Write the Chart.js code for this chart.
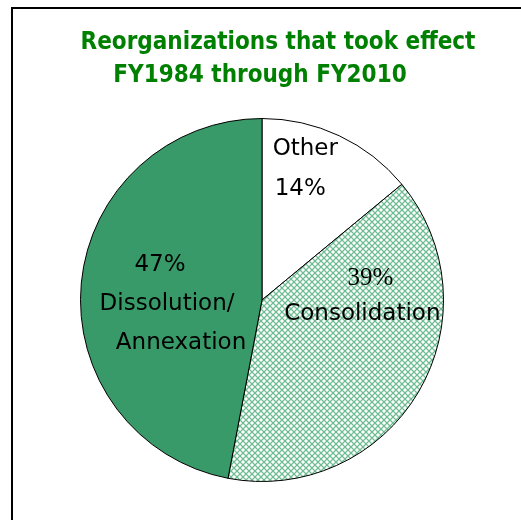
<!DOCTYPE html>
<html>
<head>
<meta charset="utf-8">
<script src="https://cdn.jsdelivr.net/npm/chart.js@4"></script>
<style>
  html, body { margin: 0; padding: 0; background: #fff; overflow: hidden; }
  #wrap { position: relative; width: 521px; height: 520px; }
  #frame { position: absolute; left: 11px; top: 7px; width: 600px; height: 600px;
           border-left: 2px solid #000; border-top: 2px solid #000; }
  canvas { position: absolute; left: 0; top: 0; }
</style>
</head>
<body>
<div id="wrap">
  <div id="frame"></div>
  <canvas id="pieChart" width="521" height="520"></canvas>
</div>
<script>
const titleLines = ["Reorganizations that took effect", "FY1984 through FY2010"];
const categories = ["Other", "Consolidation", "Dissolution/Annexation"];
const shares = [14, 39, 47];
const labelLines = [["Other", "14%"], ["39%", "Consolidation"], ["47%", "Dissolution/", "Annexation"]];

// crosshatch fill for the consolidation slice
function makeHatch() {
    const c = document.createElement('canvas');
    c.width = 6; c.height = 6;
    const g = c.getContext('2d');
    g.fillStyle = '#ffffff';
    g.fillRect(0, 0, 6, 6);
    for (let y = 0; y < 6; y++) {
        for (let x = 0; x < 6; x++) {
            if (x === y || x + y === 5) {
                g.fillStyle = '#6fbb93';
                g.fillRect(x, y, 1, 1);
            } else if (Math.abs(x - y) === 1 || Math.abs(x + y - 5) === 1) {
                g.fillStyle = '#c2e4d1';
                g.fillRect(x, y, 1, 1);
            }
        }
    }
    return g.createPattern(c, 'repeat');
}

const ctx = document.getElementById('pieChart').getContext('2d');

const sansFont = '"DejaVu Sans", sans-serif';
// label block placement: fraction of radius along slice middle, then per-line nudges
const labelPlace = [
    { r: 0.78, dx: [-17, -22], dy: [-3, -3], gap: 40, font: [sansFont, sansFont], size: [23, 23] },
    { r: 0.38, dx: [49, 41], dy: [-39, -39], gap: 35, font: ['"Liberation Serif", serif', sansFont], size: [25, 23] },
    { r: 0.52, dx: [-8, -1, 13], dy: [12, 13, 13], gap: 38.5, font: [sansFont, sansFont, sansFont], size: [23, 23, 23] }
];

const titlePlugin = {
    id: 'twoLineTitle',
    afterDraw(chart) {
        const c = chart.ctx;
        c.save();
        c.fillStyle = '#008000';
        c.font = 'bold 24px "DejaVu Sans Condensed", "DejaVu Sans", sans-serif';
        c.textAlign = 'center';
        c.textBaseline = 'middle';
        c.fillText(titleLines[0], 278, 43);
        c.fillText(titleLines[1], 260, 76);
        c.restore();
    }
};

const sliceLabels = {
    id: 'sliceLabels',
    afterDatasetsDraw(chart) {
        const c = chart.ctx;
        const meta = chart.getDatasetMeta(0);
        c.save();
        c.fillStyle = '#000';
        c.textAlign = 'center';
        c.textBaseline = 'middle';
        meta.data.forEach((arc, i) => {
            const p = labelPlace[i];
            const mid = (arc.startAngle + arc.endAngle) / 2;
            const x = arc.x + Math.cos(mid) * arc.outerRadius * p.r;
            const y = arc.y + Math.sin(mid) * arc.outerRadius * p.r;
            const lines = labelLines[i];
            const top = y - (lines.length - 1) * p.gap / 2;
            lines.forEach((t, j) => {
                c.font = p.size[j] + 'px ' + p.font[j];
                c.fillText(t, x + p.dx[j], top + j * p.gap + p.dy[j]);
            });
        });
        c.restore();
    }
};

new Chart(ctx, {
    type: 'pie',
    data: {
        labels: categories,
        datasets: [{
            data: shares,
            backgroundColor: ['#ffffff', makeHatch(), '#389a69'],
            borderColor: '#000000',
            borderWidth: 1,
            hoverOffset: 0
        }]
    },
    options: {
        responsive: false,
        animation: false,
        layout: { padding: { left: 80, right: 77, top: 118, bottom: 38 } },
        plugins: {
            legend: { display: false },
            tooltip: { enabled: false },
            title: { display: false }
        }
    },
    plugins: [titlePlugin, sliceLabels]
});
</script>
</body>
</html>
